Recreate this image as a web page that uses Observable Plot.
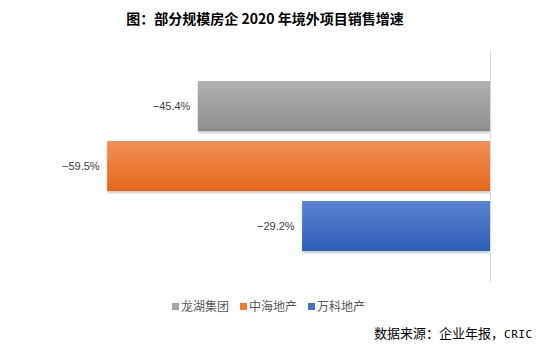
<!DOCTYPE html>
<html>
<head>
<meta charset="utf-8">
<script src="https://cdn.jsdelivr.net/npm/d3@7"></script>
<script src="https://cdn.jsdelivr.net/npm/@observablehq/plot@0.6"></script>
<style>
  html, body { margin: 0; padding: 0; background: #fff; }
  body { width: 554px; height: 352px; position: relative; overflow: hidden; font-family: "Noto Sans CJK SC", sans-serif; }
  #title { position: absolute; left: 0; width: 530px; top: 8px; text-align: center; font-size: 14px; font-weight: bold; color: #000; line-height: 20px; }
  #chart { position: absolute; left: 0; top: 35px; }
  #legend { position: absolute; left: 172px; top: 297px; font-size: 12px; color: #595959; line-height: 18px; white-space: nowrap; }
  #legend span.item { margin-right: 11px; }
  #legend i { display: inline-block; width: 7px; height: 7px; margin-right: 2px; vertical-align: 1px; }
  #source { position: absolute; left: 374px; top: 324px; font-size: 13px; color: #000; line-height: 18px; white-space: nowrap; }
  #source .mono { font-family: "DejaVu Sans Mono", monospace; font-size: 11px; letter-spacing: 0.5px; }
</style>
</head>
<body>
<div id="title">图：部分规模房企 2020 年境外项目销售增速</div>
<div id="chart"></div>
<div id="legend"></div>
<div id="source">数据来源：企业年报，<span class="mono">CRIC</span></div>
<script>
const categories = ["龙湖集团", "中海地产", "万科地产"];
const values = [-45.4, -59.5, -29.2];
const colorsTop = ["#b1b1b1", "#f3915a", "#5a84d2"];
const colorsBottom = ["#8e8e8e", "#e2671a", "#2c5db6"];
const legendColors = ["#a5a5a5", "#ed7d31", "#4472c4"];

const data = categories.map((c, i) => ({ name: c, value: values[i], idx: i }));

const plot = Plot.plot({
  width: 554,
  height: 250,
  marginLeft: 39.6,
  marginRight: 64,
  marginTop: 15,
  marginBottom: 3,
  x: { domain: [-70, 0], axis: null },
  y: { domain: categories, axis: null, paddingInner: 0.16, paddingOuter: 0.49, align: 0.5 },
  marks: [
    Plot.barX(data, { x: "value", y: "name", fill: "#999" }),
    Plot.ruleX([0], { stroke: "#d9d9d9", strokeWidth: 1 }),
    Plot.text(data, {
      x: "value", y: "name",
      text: d => "\u2212" + Math.abs(d.value).toFixed(1) + "%",
      textAnchor: "end", dx: -8,
      fill: "#404040", fontSize: 11,
      fontFamily: "Liberation Sans, sans-serif"
    })
  ]
});

// gradients and shadow
const svg = d3.select(plot);
const defs = svg.insert("defs", ":first-child");
categories.forEach((c, i) => {
  const g = defs.append("linearGradient").attr("id", "grad" + i)
    .attr("x1", 0).attr("y1", 0).attr("x2", 0).attr("y2", 1);
  g.append("stop").attr("offset", "0%").attr("stop-color", colorsTop[i]);
  g.append("stop").attr("offset", "100%").attr("stop-color", colorsBottom[i]);
});
const f = defs.append("filter").attr("id", "shadow").attr("x", "-5%").attr("y", "-10%").attr("width", "110%").attr("height", "130%");
f.append("feDropShadow").attr("dx", 0).attr("dy", 2).attr("stdDeviation", 1.2).attr("flood-color", "#000").attr("flood-opacity", 0.22);

svg.selectAll("g[aria-label='bar'] rect").each(function(d, j) {
  d3.select(this).attr("fill", "url(#grad" + j + ")").attr("filter", "url(#shadow)");
});

document.getElementById("chart").appendChild(plot);

const legend = document.getElementById("legend");
categories.forEach((c, i) => {
  const s = document.createElement("span");
  s.className = "item";
  s.innerHTML = `<i style="background:${legendColors[i]}"></i>${c}`;
  legend.appendChild(s);
});
</script>
</body>
</html>
